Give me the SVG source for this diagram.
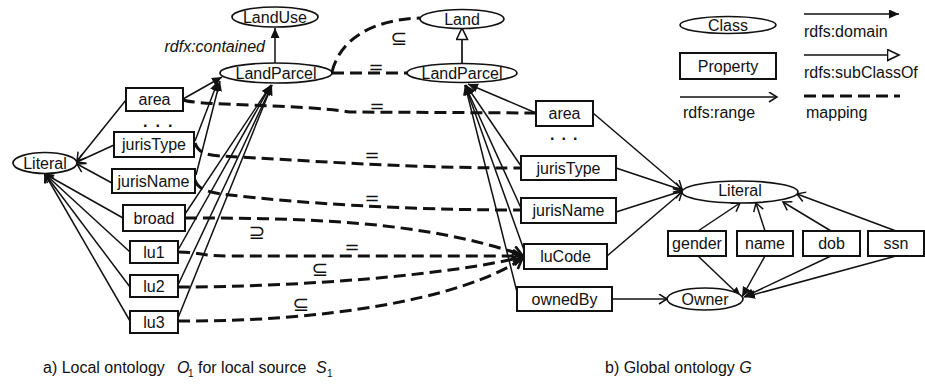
<svg xmlns="http://www.w3.org/2000/svg" width="925" height="384" viewBox="0 0 925 384">
<defs>
<style>
text{font-family:"Liberation Sans",Arial,sans-serif;font-size:16px;fill:#111}
.n text{text-anchor:middle}
.n ellipse{fill:#fff;stroke:#111;stroke-width:1.7}
.n rect{fill:#fff;stroke:#111;stroke-width:2}
.d{fill:none;stroke:#111;stroke-width:1.5;marker-end:url(#dom)}
.r{fill:none;stroke:#111;stroke-width:1.5;marker-end:url(#rng)}
.s{fill:none;stroke:#111;stroke-width:1.7;marker-end:url(#sub)}
.m{fill:none;stroke:#111;stroke-width:3;stroke-dasharray:12 6}
.ma{marker-end:url(#mapa)}
.eq{font-family:"DejaVu Sans",sans-serif;font-size:18px;text-anchor:middle}
.sub{font-family:"DejaVu Sans",sans-serif;font-size:20px;text-anchor:middle}
.dots{font-weight:bold}
</style>
<marker id="dom" markerUnits="userSpaceOnUse" markerWidth="12" markerHeight="10" refX="10" refY="4.5" orient="auto"><path d="M0,0 L10,4.5 L0,9 z" fill="#111"/></marker>
<marker id="rng" markerUnits="userSpaceOnUse" markerWidth="11" markerHeight="12" refX="9" refY="5.5" orient="auto"><path d="M1,0.5 L9,5.5 L1,10.5" fill="none" stroke="#111" stroke-width="1.5"/></marker>
<marker id="sub" markerUnits="userSpaceOnUse" markerWidth="14" markerHeight="14" refX="12.5" refY="6.5" orient="auto"><path d="M1,1 L12.5,6.5 L1,12 z" fill="#fff" stroke="#111" stroke-width="1.6"/></marker>
<marker id="mapa" markerUnits="userSpaceOnUse" markerWidth="12" markerHeight="14" refX="10" refY="7" orient="auto"><path d="M1,1 L10,7 L1,13" fill="none" stroke="#111" stroke-width="2.6"/></marker>
</defs>
<rect width="925" height="384" fill="#fff"/>

<g id="connectors">
  <!-- left: domain -->
  <path class="d" d="M275,63 L275,28"/>
  <path class="d" d="M183,99 L222,77"/>
  <path class="d" d="M195,141 L218,81"/>
  <path class="d" d="M196,175 L220,81"/>
  <path class="d" d="M185,214 L271,85"/>
  <path class="d" d="M178,250 L271,85"/>
  <path class="d" d="M178,285 L272,85"/>
  <path class="d" d="M178,318 L272,85"/>
  <!-- left: range -->
  <path class="r" d="M126,100 L77,161"/>
  <path class="r" d="M114,145 L77,162"/>
  <path class="r" d="M112,183 L77,164"/>
  <path class="r" d="M123,218 L45,174"/>
  <path class="r" d="M130,252 L45,174"/>
  <path class="r" d="M130,287 L45,174"/>
  <path class="r" d="M130,321 L45,174"/>
  <!-- right: subclass and domain -->
  <path class="s" d="M462,64 L462,28"/>
  <path class="d" d="M536,113 L468,84"/>
  <path class="d" d="M521,166 L466,85"/>
  <path class="d" d="M521,208 L465,85"/>
  <path class="d" d="M524,250 L465,85"/>
  <path class="d" d="M517,292 L465,85"/>
  <!-- right: range -->
  <path class="r" d="M593,113 L682,189"/>
  <path class="r" d="M616,168 L682,190"/>
  <path class="r" d="M616,212 L682,191"/>
  <path class="r" d="M607,256 L682,192"/>
  <path class="r" d="M698,231 L740,203"/>
  <path class="r" d="M765,231 L756,203"/>
  <path class="r" d="M831,231 L783,202"/>
  <path class="r" d="M896,231 L797,194"/>
  <path class="d" d="M698,256 L741,297"/>
  <path class="d" d="M765,256 L742,297"/>
  <path class="d" d="M831,256 L744,297"/>
  <path class="d" d="M896,256 L745,297"/>
  <path class="r" d="M612,299 L667,299"/>
  <!-- mappings -->
  <path class="m" d="M332,72 C340,40 370,20 420,18"/>
  <path class="m" d="M332,73 L407,73"/>
  <path class="m" d="M183,100 C200,106 300,104 350,112 L536,113"/>
  <path class="m" d="M195,143 C198,152 205,155 220,156 C300,160 400,168 521,168"/>
  <path class="m" d="M195,180 C198,190 210,193 230,195 C300,203 400,210 521,210"/>
  <path class="m ma" d="M185,218 C300,218 420,220 522,255"/>
  <path class="m ma" d="M178,252 C200,252 200,256 230,256 L522,256"/>
  <path class="m ma" d="M178,287 C300,287 450,275 522,257"/>
  <path class="m ma" d="M178,321 C320,322 460,300 522,259"/>
  <!-- mapping labels -->
  <text class="sub" x="399" y="45">⊆</text>
  <text class="eq" x="376" y="73">=</text>
  <text class="eq" x="377" y="112">=</text>
  <text class="eq" x="372" y="161">=</text>
  <text class="eq" x="372" y="204">=</text>
  <text class="sub" x="257" y="239">⊇</text>
  <text class="eq" x="352" y="253">=</text>
  <text class="sub" x="320" y="276">⊆</text>
  <text class="sub" x="301" y="311">⊆</text>
  <text x="265" y="52" text-anchor="end" font-style="italic">rdfx:contained</text>
</g>

<!-- local ontology -->
<g id="LandUse" class="n"><ellipse cx="275" cy="17" rx="43" ry="10"/><text x="275" y="22.5">LandUse</text></g>
<g id="LandParcelL" class="n"><ellipse cx="276" cy="73" rx="56" ry="10"/><text x="276" y="78.5">LandParcel</text></g>
<g id="LiteralL" class="n"><ellipse cx="45" cy="163" rx="32" ry="10.5"/><text x="45" y="168.5">Literal</text></g>
<g id="areaL" class="n"><rect x="126" y="88" width="57" height="23"/><text x="154.5" y="105">area</text></g>
<g id="dotsL"><text class="dots" x="143 155.5 168" y="127">...</text></g>
<g id="jurisTypeL" class="n"><rect x="114" y="132" width="80" height="25"/><text x="154" y="150">jurisType</text></g>
<g id="jurisNameL" class="n"><rect x="112" y="169" width="83" height="24"/><text x="153.5" y="186.5">jurisName</text></g>
<g id="broad" class="n"><rect x="123" y="205" width="62" height="26"/><text x="154" y="223.5">broad</text></g>
<g id="lu1" class="n"><rect x="130" y="241" width="48" height="22"/><text x="154" y="257.5">lu1</text></g>
<g id="lu2" class="n"><rect x="130" y="275" width="48" height="22"/><text x="154" y="291.5">lu2</text></g>
<g id="lu3" class="n"><rect x="130" y="311" width="48" height="22"/><text x="154" y="327.5">lu3</text></g>

<!-- global ontology -->
<g id="Land" class="n"><ellipse cx="462" cy="19" rx="42" ry="9.5"/><text x="462" y="24.5">Land</text></g>
<g id="LandParcelG" class="n"><ellipse cx="462" cy="73" rx="55" ry="9.5"/><text x="462" y="78.5">LandParcel</text></g>
<g id="areaG" class="n"><rect x="536" y="101" width="57" height="25"/><text x="564.5" y="119">area</text></g>
<g id="dotsG"><text class="dots" x="550 561.5 573" y="140">...</text></g>
<g id="jurisTypeG" class="n"><rect x="521" y="156" width="95" height="24"/><text x="568.5" y="173.5">jurisType</text></g>
<g id="jurisNameG" class="n"><rect x="521" y="198" width="95" height="25"/><text x="568.5" y="216">jurisName</text></g>
<g id="luCode" class="n"><rect x="524" y="244" width="83" height="25"/><text x="565.5" y="262">luCode</text></g>
<g id="ownedBy" class="n"><rect x="517" y="287" width="95" height="24"/><text x="564.5" y="304.5">ownedBy</text></g>
<g id="LiteralG" class="n"><ellipse cx="740" cy="192" rx="58" ry="11"/><text x="740" y="196">Literal</text></g>
<g id="gender" class="n"><rect x="668" y="231" width="58" height="25"/><text x="697" y="249">gender</text></g>
<g id="name" class="n"><rect x="737" y="231" width="56" height="25"/><text x="765" y="249">name</text></g>
<g id="dob" class="n"><rect x="803" y="231" width="57" height="25"/><text x="831.5" y="249">dob</text></g>
<g id="ssn" class="n"><rect x="868" y="231" width="56" height="25"/><text x="896" y="249">ssn</text></g>
<g id="Owner" class="n"><ellipse cx="705" cy="299" rx="38" ry="11"/><text x="705" y="304.5">Owner</text></g>

<!-- legend -->
<g id="legend">
  <g id="legClass" class="n"><ellipse cx="728" cy="25" rx="48" ry="8.5"/><text x="728" y="31">Class</text></g>
  <g id="legProperty" class="n"><rect x="680" y="53" width="96" height="26"/><text x="728" y="71.5">Property</text></g>
  <path class="d" d="M804,14 L899,14"/>
  <text x="804" y="37">rdfs:domain</text>
  <path class="s" d="M804,55 L899,55"/>
  <text x="804" y="78">rdfs:subClassOf</text>
  <path class="r" d="M680,97 L777,97"/>
  <text x="683" y="118">rdfs:range</text>
  <path class="m" d="M804,96 L900,96"/>
  <text x="806" y="118">mapping</text>
</g>

<!-- captions -->
<text x="43" y="373">a) Local ontology <tspan x="177" font-style="italic">O</tspan><tspan x="188" dy="4" font-size="10">1</tspan><tspan x="198" dy="-4">for local source</tspan><tspan x="316" font-style="italic">S</tspan><tspan x="327" dy="4" font-size="10">1</tspan></text>
<text x="605" y="373">b) Global ontology <tspan font-style="italic">G</tspan></text>
</svg>
